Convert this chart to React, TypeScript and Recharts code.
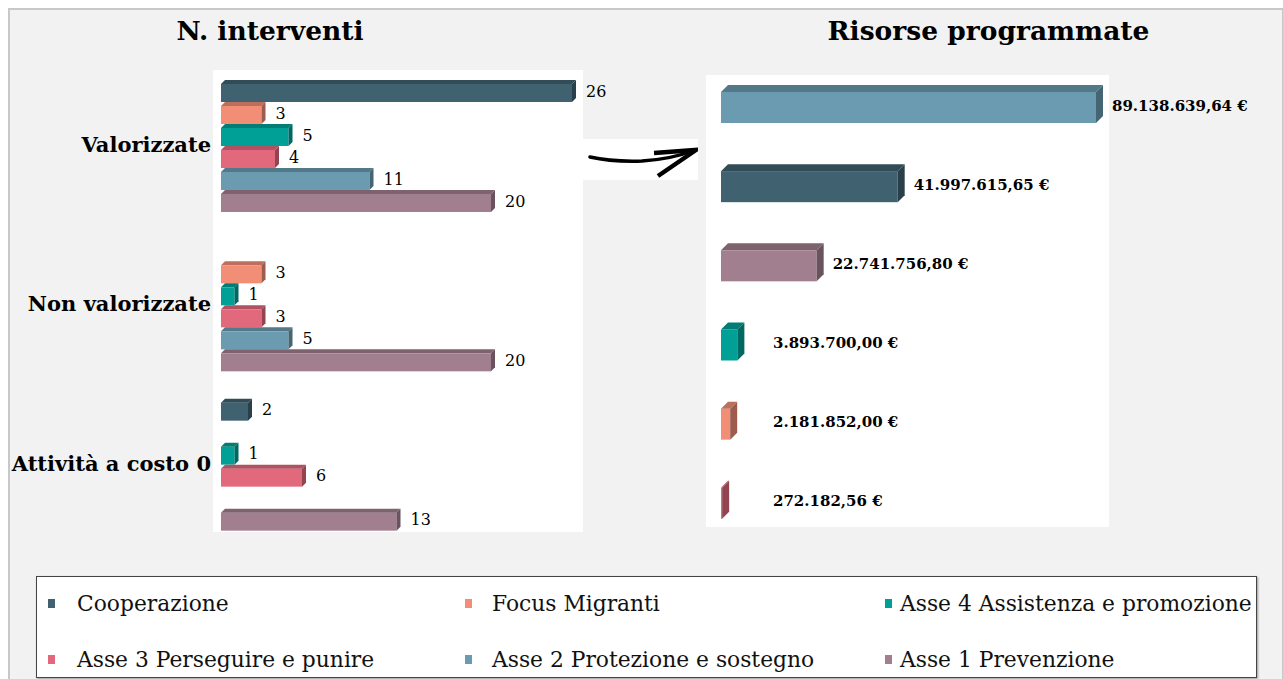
import React from 'react';
import { BarChart, Bar, XAxis, YAxis, LabelList } from 'recharts';

// categories of the left chart
const categories = ['Valorizzate', 'Non valorizzate', 'Attività a costo 0'];

// series (legend order)
const seriesNames = [
  'Cooperazione',
  'Focus Migranti',
  'Asse 4 Assistenza e promozione',
  'Asse 3 Perseguire e punire',
  'Asse 2 Protezione e sostegno',
  'Asse 1 Prevenzione',
];
const seriesColors = ['#3f6170', '#f28e76', '#00a096', '#e2697c', '#6b9bb0', '#a27f8e'];

// N. interventi, one value per category
const cooperazione = [26, null, 2];
const focusMigranti = [3, 3, null];
const asse4 = [5, 1, 1];
const asse3 = [4, 3, 6];
const asse2 = [11, 5, null];
const asse1 = [20, 20, 13];

// Risorse programmate
const risorseSeries = [
  'Asse 2 Protezione e sostegno',
  'Cooperazione',
  'Asse 1 Prevenzione',
  'Asse 4 Assistenza e promozione',
  'Focus Migranti',
  'Asse 3 Perseguire e punire',
];
const risorseValues = [89138639.64, 41997615.65, 22741756.8, 3893700.0, 2181852.0, 272182.56];

const seriesValues = [cooperazione, focusMigranti, asse4, asse3, asse2, asse1];
const keys = ['s0', 's1', 's2', 's3', 's4', 's5'];

const interventiData = categories.map((name, i) => {
  const row: any = { name };
  seriesValues.forEach((vals, s) => {
    row[keys[s]] = vals[i];
  });
  return row;
});

const colorOf = (name: string) => seriesColors[seriesNames.indexOf(name)];

const risorseData = risorseSeries.map((name, i) => ({
  name,
  value: risorseValues[i],
  color: colorOf(name),
}));

const serif = '"DejaVu Serif", serif';

function shade(hex: string, f: number) {
  const n = parseInt(hex.slice(1), 16);
  const r = Math.round(((n >> 16) & 255) * f);
  const g = Math.round(((n >> 8) & 255) * f);
  const b = Math.round((n & 255) * f);
  return `rgb(${r},${g},${b})`;
}

function formatEuro(v: number) {
  const [int, dec] = v.toFixed(2).split('.');
  const withDots = int.replace(/\B(?=(\d{3})+(?!\d))/g, '.');
  return `${withDots},${dec} €`;
}

const makeBar3D = (depth: number) => (props: any) => {
  const { x, y, width, height } = props;
  if (x == null || width == null || props.value == null) return null;
  const fill = props.payload?.color ?? props.fill;
  const d = depth;
  const w = Math.max(width, 0);
  return (
    <g>
      <rect x={x} y={y + d} width={w} height={height - d} fill={fill} />
      <polygon
        points={`${x},${y + d} ${x + d},${y} ${x + w + d},${y} ${x + w},${y + d}`}
        fill={shade(fill, 0.78)}
      />
      <polygon
        points={`${x + w},${y + d} ${x + w + d},${y} ${x + w + d},${y + height - d} ${x + w},${y + height}`}
        fill={shade(fill, 0.65)}
      />
    </g>
  );
};

const leftBar = makeBar3D(4);
const rightBar = makeBar3D(7);

const RisorseLabel = (props: any) => {
  const { x, y, width, height, value } = props;
  const d = 7;
  const lx = Math.max(x + width + 16, x + 52);
  return (
    <text
      x={lx}
      y={y + d + (height - d) / 2 - 2}
      dominantBaseline="central"
      fontFamily={serif}
      fontWeight="bold"
      fontSize={15}
      fill="#000"
    >
      {formatEuro(value)}
    </text>
  );
};

const Arrow = () => (
  <svg width={116} height={41} style={{ position: 'absolute', left: 582, top: 139, background: '#fff' }}>
    <path d="M8 18 Q 30 23 60 22 Q 90 20 110 12" stroke="#000" strokeWidth={3.5} fill="none" strokeLinecap="round" />
    <path d="M72 14 L 114 11 L 76 37" stroke="#000" strokeWidth={4.5} fill="none" strokeLinejoin="miter" />
  </svg>
);

const Legend = () => {
  const colX = [47, 464, 884];
  const gaps = [22, 20, 8];
  return (
    <div
      style={{
        position: 'absolute',
        left: 36,
        top: 576,
        width: 1219,
        height: 100,
        background: '#fff',
        border: '1px solid #444',
        boxShadow: '1px 1px 2px #999',
      }}
    >
      {seriesNames.map((name, i) => {
        const col = i % 3;
        const row = Math.floor(i / 3);
        return (
          <div
            key={name}
            style={{
              position: 'absolute',
              left: colX[col] - 36,
              top: row === 0 ? 14 : 70,
              display: 'flex',
              alignItems: 'center',
              whiteSpace: 'nowrap',
            }}
          >
            <span style={{ width: 7, height: 9, background: seriesColors[i], marginRight: gaps[col] }} />
            <span style={{ fontFamily: serif, fontSize: 21.8, color: '#111' }}>{name}</span>
          </div>
        );
      })}
    </div>
  );
};

export default function App() {
  return (
    <div style={{ position: 'relative', width: 1283, height: 679, overflow: 'hidden', background: '#fff' }}>
      <style>{`body{margin:0;overflow:hidden}`}</style>
      <div
        style={{
          position: 'absolute',
          left: 8,
          top: 8,
          width: 1272,
          height: 680,
          background: '#f2f2f2',
          borderTop: '2px solid #c8c8c8',
          borderLeft: '2px solid #c8c8c8',
          borderRight: '2px solid #c8c8c8',
        }}
      />
      <div
        style={{
          position: 'absolute',
          left: 0,
          width: 540,
          top: 15,
          textAlign: 'center',
          fontFamily: serif,
          fontWeight: 'bold',
          fontSize: 26.5,
        }}
      >
        N. interventi
      </div>
      <div
        style={{
          position: 'absolute',
          left: 700,
          width: 577,
          top: 15,
          textAlign: 'center',
          fontFamily: serif,
          fontWeight: 'bold',
          fontSize: 26.5,
        }}
      >
        Risorse programmate
      </div>
      <div style={{ position: 'absolute', left: 213, top: 70, width: 370, height: 462, background: '#fff' }} />
      <div style={{ position: 'absolute', left: 706, top: 75, width: 403, height: 452, background: '#fff' }} />
      <Arrow />

      <div style={{ position: 'absolute', left: 0, top: 0 }}>
        <BarChart
          width={640}
          height={560}
          data={interventiData}
          layout="vertical"
          margin={{ top: 65, right: 68, bottom: 17, left: 0 }}
          barCategoryGap={15}
          barGap={0}
        >
          <XAxis type="number" domain={[0, 26]} hide />
          <YAxis
            type="category"
            dataKey="name"
            width={221}
            axisLine={false}
            tickLine={false}
            tickSize={0}
            tickMargin={10}
            tick={{ fontFamily: serif, fontWeight: 'bold', fontSize: 21, fill: '#000' }}
          />
          {keys.map((k, s) => (
            <Bar key={k} dataKey={k} name={seriesNames[s]} fill={seriesColors[s]} shape={leftBar} isAnimationActive={false}>
              <LabelList
                dataKey={k}
                position="right"
                offset={14}
                style={{ fontFamily: serif, fontSize: 16, fill: '#000' }}
              />
            </Bar>
          ))}
        </BarChart>
      </div>

      <div style={{ position: 'absolute', left: 640, top: 0 }}>
        <BarChart
          width={643}
          height={560}
          data={risorseData}
          layout="vertical"
          margin={{ top: 64, right: 187, bottom: 21, left: 81 }}
          barSize={38}
        >
          <XAxis type="number" domain={[0, 'dataMax']} hide />
          <YAxis type="category" dataKey="name" hide />
          <Bar dataKey="value" shape={rightBar} isAnimationActive={false}>
            <LabelList dataKey="value" content={RisorseLabel} />
          </Bar>
        </BarChart>
      </div>

      <Legend />
    </div>
  );
}
